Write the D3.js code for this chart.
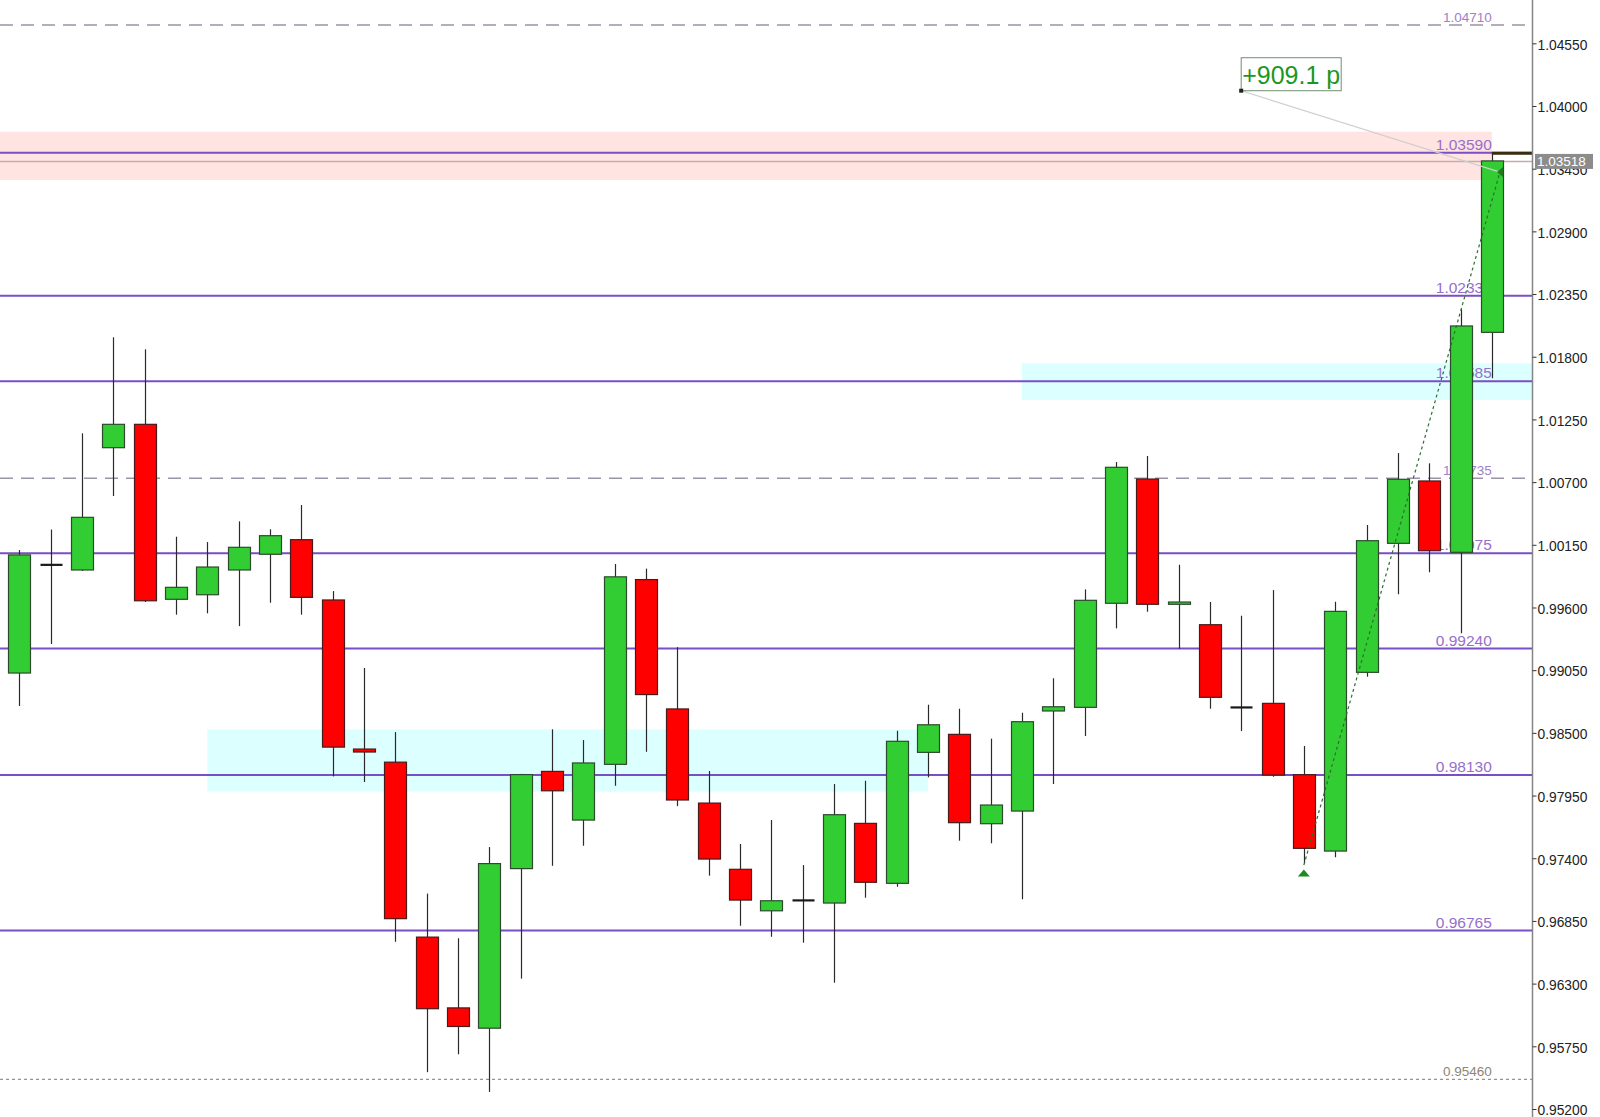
<!DOCTYPE html>
<html>
<head>
<meta charset="utf-8">
<script src="https://cdn.jsdelivr.net/npm/d3@7"></script>
<style>
  html, body { margin: 0; padding: 0; background: #ffffff; }
  svg { display: block; }
</style>
</head>
<body>
<script>
// ---------------- DATA ----------------
const dates = ["2022-09-07","2022-09-08","2022-09-09","2022-09-12","2022-09-13","2022-09-14","2022-09-15","2022-09-16",
  "2022-09-19","2022-09-20","2022-09-21","2022-09-22","2022-09-23","2022-09-26","2022-09-27","2022-09-28",
  "2022-09-29","2022-09-30","2022-10-03","2022-10-04","2022-10-05","2022-10-06","2022-10-07","2022-10-10",
  "2022-10-11","2022-10-12","2022-10-13","2022-10-14","2022-10-17","2022-10-18","2022-10-19","2022-10-20",
  "2022-10-21","2022-10-24","2022-10-25","2022-10-26","2022-10-27","2022-10-28","2022-10-31","2022-11-01",
  "2022-11-02","2022-11-03","2022-11-04","2022-11-07","2022-11-08","2022-11-09","2022-11-10","2022-11-11"];
const opens  = [0.99025,0.99975,0.99929,1.01002,1.01207,0.99672,0.99712,0.99929,1.00067,1.00195,0.99666,0.98358,
  0.98243,0.96708,0.96087,0.95909,0.97309,0.98162,0.97735,0.98224,0.99845,0.98710,0.97884,0.97303,
  0.96939,0.97031,0.97007,0.97706,0.97180,0.98329,0.98487,0.97703,0.97814,0.98692,0.98724,0.99637,
  1.00727,0.99628,0.99449,0.98724,0.98759,0.98133,0.97463,0.99031,1.00163,1.00710,1.00084,1.02014];
const highs  = [1.00104,1.00284,1.01128,1.01971,1.01865,1.00221,1.00174,1.00356,1.00286,1.00499,0.99744,0.99069,
  0.98507,0.97090,0.96698,0.97498,0.98140,0.98531,0.98437,0.99982,0.99941,0.99252,0.98165,0.97525,
  0.97735,0.97340,0.98051,0.98080,0.98519,0.98747,0.98712,0.98449,0.98677,0.98979,0.99759,1.00876,
  1.00929,0.99975,0.99648,0.99528,0.99753,0.98385,0.99651,1.00324,1.00955,1.00865,1.02216,1.03585];
const lows   = [0.98736,0.99280,0.99920,1.00578,0.99648,0.99537,0.99549,0.99437,0.99642,0.99537,0.98118,0.98069,
  0.96667,0.95523,0.95680,0.95350,0.96344,0.97334,0.97510,0.98036,0.98334,0.97857,0.97247,0.96808,
  0.96711,0.96659,0.96308,0.97054,0.97150,0.98110,0.97554,0.97531,0.97040,0.98051,0.98472,0.99417,
  0.99563,0.99238,0.98712,0.98516,0.98115,0.97355,0.97408,0.98993,0.99716,0.99909,0.99373,1.01611];
const closes = [1.00061,0.99975,1.00391,1.01207,0.99659,0.99777,0.99955,1.00128,1.00230,0.99689,0.98375,0.98332,
  0.96870,0.96080,0.95924,0.97353,0.98134,0.97992,0.98236,0.99869,0.98836,0.97911,0.97393,0.97033,
  0.97027,0.97031,0.97782,0.97189,0.98426,0.98571,0.97712,0.97867,0.98598,0.98729,0.99663,1.00830,
  0.99628,0.99648,0.98812,0.98724,0.98130,0.97487,0.99566,1.00186,1.00725,1.00098,1.02070,1.03518];

const tickValues = [1.04550,1.04000,1.03450,1.02900,1.02350,1.01800,1.01250,1.00700,1.00150,0.99600,
  0.99050,0.98500,0.97950,0.97400,0.96850,0.96300,0.95750,0.95200];

const solidLevels  = [1.03590,1.02335,1.01585,1.00075,0.99240,0.98130,0.96765];
const dashedLevels = [1.04710,1.00735];
const dottedLevels = [0.95460];
const bidPrice = 1.03518;

// zones: [fromIndex, toIndex, low, high]
const pinkZone  = [0, 47, 1.03351, 1.03774];
const cyanZones = [[6, 29, 0.97984, 0.98531], [32, 48, 1.01420, 1.01742]];

// trend line from low of bar 41 up to last bar
const trendFrom = [41, 0.97340];
const trendTo   = [47.26, 1.03420];
// profit label anchor
const profitText = "+909.1 p";
const profitAnchor = [39, 1.04134];

// ---------------- LAYOUT ----------------
const W = 1600, H = 1117;
const plotRight = 1532;

const svg = d3.select("body").append("svg").attr("width", W).attr("height", H)
  .style("font-family", "'Liberation Sans', Arial, sans-serif");

const y = d3.scaleLinear().domain([0.95200, 1.04550]).range([1109, 43.3]);
const x = d3.scaleBand().domain(d3.range(dates.length)).range([3.635, 1507.5])
  .paddingInner(0.31).paddingOuter(0.155);
const step = x.step();
const cx = i => x(Math.floor(i)) + x.bandwidth() / 2 + (i - Math.floor(i)) * step;
const cxAny = i => (i >= dates.length) ? plotRight : cx(i);

// ---------------- ZONES ----------------
svg.append("rect")
  .attr("x", 0).attr("width", cx(pinkZone[1]))
  .attr("y", y(pinkZone[3])).attr("height", y(pinkZone[2]) - y(pinkZone[3]))
  .attr("fill", "#ffe4e1");

svg.selectAll("rect.cyan").data(cyanZones).enter().append("rect")
  .attr("class", "cyan")
  .attr("x", d => cx(d[0])).attr("width", d => cxAny(d[1]) - cx(d[0]))
  .attr("y", d => y(d[3])).attr("height", d => y(d[2]) - y(d[3]))
  .attr("fill", "#dcffff");

// ---------------- LEVEL LINES ----------------
// bid line
svg.append("line").attr("x1", 0).attr("x2", plotRight)
  .attr("y1", Math.round(y(bidPrice)) + 0.5).attr("y2", Math.round(y(bidPrice)) + 0.5)
  .attr("stroke", "#c9aaaa").attr("stroke-width", 1.5);

svg.selectAll("line.solid").data(solidLevels).enter().append("line")
  .attr("class", "solid")
  .attr("x1", 0).attr("x2", plotRight)
  .attr("y1", d => y(d)).attr("y2", d => y(d))
  .attr("stroke", "#7a4ec4").attr("stroke-width", 2);

svg.selectAll("line.dashed").data(dashedLevels).enter().append("line")
  .attr("class", "dashed")
  .attr("x1", 0).attr("x2", plotRight)
  .attr("y1", d => y(d)).attr("y2", d => y(d))
  .attr("stroke", "#9a94a6").attr("stroke-width", 1.5)
  .attr("stroke-dasharray", "13,8");

svg.selectAll("line.dotted").data(dottedLevels).enter().append("line")
  .attr("class", "dotted")
  .attr("x1", 0).attr("x2", plotRight)
  .attr("y1", d => y(d)).attr("y2", d => y(d))
  .attr("stroke", "#a09080").attr("stroke-width", 1.2)
  .attr("stroke-dasharray", "3,3");

const fmt = d3.format(".5f");
const labelX = cx(dates.length - 1);

svg.selectAll("text.solidLbl").data(solidLevels).enter().append("text")
  .attr("class", "solidLbl")
  .attr("x", labelX).attr("y", d => y(d) - 3)
  .attr("text-anchor", "end")
  .attr("font-size", "15.5px").attr("fill", "#9470cc")
  .text(d => fmt(d));

svg.selectAll("text.dashLbl").data(dashedLevels).enter().append("text")
  .attr("class", "dashLbl")
  .attr("x", labelX).attr("y", d => y(d) - 3)
  .attr("text-anchor", "end")
  .attr("font-size", "13.5px").attr("fill", "#a080c8")
  .text(d => fmt(d));

svg.selectAll("text.dotLbl").data(dottedLevels).enter().append("text")
  .attr("class", "dotLbl")
  .attr("x", labelX).attr("y", d => y(d) - 3)
  .attr("text-anchor", "end")
  .attr("font-size", "13.5px").attr("fill", "#8f8474")
  .text(d => fmt(d));

// ---------------- CANDLES ----------------
const candles = dates.map((d, i) => ({ i, date: d, o: opens[i], h: highs[i], l: lows[i], c: closes[i] }));
const g = svg.append("g");

g.selectAll("line.wick").data(candles).enter().append("line")
  .attr("class", "wick")
  .attr("x1", d => Math.round(cx(d.i)) + 0.5).attr("x2", d => Math.round(cx(d.i)) + 0.5)
  .attr("y1", d => y(d.h)).attr("y2", d => y(d.l))
  .attr("stroke", "#2a2a2a").attr("stroke-width", 1.2);

g.selectAll("rect.body").data(candles.filter(d => d.o !== d.c)).enter().append("rect")
  .attr("class", "body")
  .attr("x", d => Math.round(x(d.i)) + 0.5)
  .attr("width", Math.round(x.bandwidth()))
  .attr("y", d => y(Math.max(d.o, d.c)))
  .attr("height", d => Math.max(1.5, Math.abs(y(d.o) - y(d.c))))
  .attr("fill", d => d.c > d.o ? "#32cd32" : "#ff0000")
  .attr("stroke", d => d.c > d.o ? "#2c4a2c" : "#4a1a1a")
  .attr("stroke-width", 1.2);

g.selectAll("rect.doji").data(candles.filter(d => d.o === d.c)).enter().append("rect")
  .attr("class", "doji")
  .attr("x", d => Math.round(x(d.i)) + 0.5)
  .attr("width", Math.round(x.bandwidth()))
  .attr("y", d => y(d.o) - 1)
  .attr("height", 2.2)
  .attr("fill", "#1a1a1a");

// dark marker at the last bar's high to the axis
const last = candles[candles.length - 1];
svg.append("line")
  .attr("x1", cx(last.i)).attr("x2", plotRight)
  .attr("y1", y(last.h)).attr("y2", y(last.h))
  .attr("stroke", "#3a2a10").attr("stroke-width", 3);

// ---------------- TREND LINE & PROFIT LABEL ----------------
svg.append("line")
  .attr("x1", cx(profitAnchor[0])).attr("y1", y(profitAnchor[1]))
  .attr("x2", cx(trendTo[0])).attr("y2", y(trendTo[1]))
  .attr("stroke", "#cfcfcf").attr("stroke-width", 1.2);

svg.append("line")
  .attr("x1", cx(trendFrom[0])).attr("y1", y(trendFrom[1]))
  .attr("x2", cx(trendTo[0])).attr("y2", y(trendTo[1]))
  .attr("stroke", "#2f6e2f").attr("stroke-width", 1.2)
  .attr("stroke-dasharray", "3,3");

// arrow at trend start (up triangle below low)
const tx0 = cx(trendFrom[0]), ty0 = y(lows[trendFrom[0]]);
svg.append("path")
  .attr("d", `M${tx0},${ty0 + 6} L${tx0 + 6},${ty0 + 13} L${tx0 - 6},${ty0 + 13} Z`)
  .attr("fill", "#1f8a1f");
// arrow at trend end (left-pointing)
const tx1 = cx(trendTo[0]), ty1 = y(trendTo[1]);
svg.append("path")
  .attr("d", `M${tx1 - 3},${ty1} L${tx1 + 3},${ty1 - 5} L${tx1 + 3},${ty1 + 5} Z`)
  .attr("fill", "#1f7a1f");

// profit label
const px = cx(profitAnchor[0]), py = y(profitAnchor[1]);
svg.append("rect")
  .attr("x", px).attr("y", py - 33).attr("width", 100).attr("height", 33)
  .attr("fill", "#ffffff").attr("stroke", "#6f8f6f").attr("stroke-width", 1);
svg.append("text")
  .attr("x", px + 1).attr("y", py - 7)
  .attr("font-size", "25px").attr("fill", "#1e961e")
  .text(profitText);
svg.append("rect")
  .attr("x", px - 2).attr("y", py - 2).attr("width", 4).attr("height", 4)
  .attr("fill", "#222");

// ---------------- AXIS ----------------
svg.append("line")
  .attr("x1", plotRight + 0.5).attr("x2", plotRight + 0.5)
  .attr("y1", 0).attr("y2", H)
  .attr("stroke", "#858585").attr("stroke-width", 1.5);

const yAxis = d3.axisRight(y).tickValues(tickValues).tickSize(4).tickPadding(1)
  .tickFormat(d3.format(".5f"));
const ax = svg.append("g").attr("transform", `translate(${plotRight + 0.5},0)`).call(yAxis);
ax.select(".domain").remove();
ax.selectAll(".tick line").attr("stroke", "#333");
ax.selectAll(".tick text")
  .attr("font-family", "'Liberation Sans', Arial, sans-serif")
  .attr("font-size", "13.8px").attr("fill", "#222").attr("dy", "0.42em");

// current price tag
const bidY = y(bidPrice);
svg.append("rect")
  .attr("x", plotRight + 3).attr("y", bidY - 7).attr("width", 58).attr("height", 15)
  .attr("fill", "#8c8c8c");
svg.append("text")
  .attr("x", plotRight + 5).attr("y", bidY + 5)
  .attr("font-size", "13.5px").attr("fill", "#ffffff")
  .text(fmt(bidPrice));
</script>
</body>
</html>
